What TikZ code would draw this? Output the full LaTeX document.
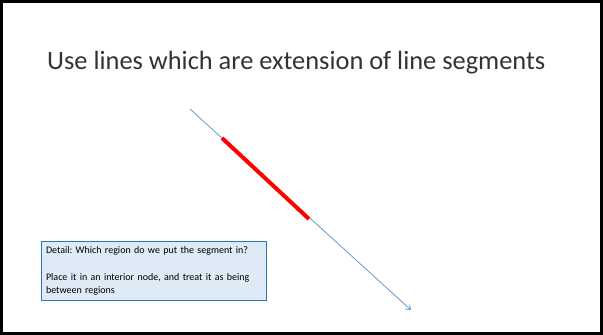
\documentclass[tikz,border=0pt]{standalone}
\usepackage{fontspec}
\setmainfont{Carlito}
\usetikzlibrary{arrows.meta}
\hyphenpenalty=10000
\exhyphenpenalty=10000
\frenchspacing
\definecolor{lineblue}{HTML}{5B9BD5}
\definecolor{boxfill}{HTML}{DEEAF6}
\definecolor{boxedge}{HTML}{2E75B6}
\tikzset{
  frame/.style={draw=black, line width=3pt},
  extline/.style={draw=lineblue, line width=0.8pt, -{Straight Barb[length=4pt,width=6pt]}},
  segline/.style={draw=red, line width=4pt},
  notebox/.style={draw=boxedge, fill=boxfill, line width=1pt, anchor=north west, align=left,
    text width=216pt, inner xsep=4pt, inner ysep=5pt, font=\fontsize{10}{12.5}\selectfont, minimum height=58pt, minimum width=225pt},
  titletext/.style={anchor=base west, inner sep=0pt, font=\fontsize{26.4}{30}\selectfont, text=black!80}
}
\begin{document}
\begin{tikzpicture}[x=1pt,y=1pt]
\useasboundingbox (0,0) rectangle (603,335);
\draw[frame] (1.5,1.5) rectangle (601.5,333.5);
\node[titletext] (title) at (47,265) {Use lines which are extension of line segments};
\coordinate (lstart) at (190,226);
\coordinate (lend) at (411,25);
\coordinate (sstart) at (222,197);
\coordinate (send) at (309,116);
\draw[extline] (lstart) -- (lend);
\draw[segline] (sstart) -- (send);
\node[notebox] (note) at (41,94) {Detail: Which region do we put the segment in?\\[15pt]Place it in an interior node, and treat it as being between regions};
\end{tikzpicture}
\end{document}
